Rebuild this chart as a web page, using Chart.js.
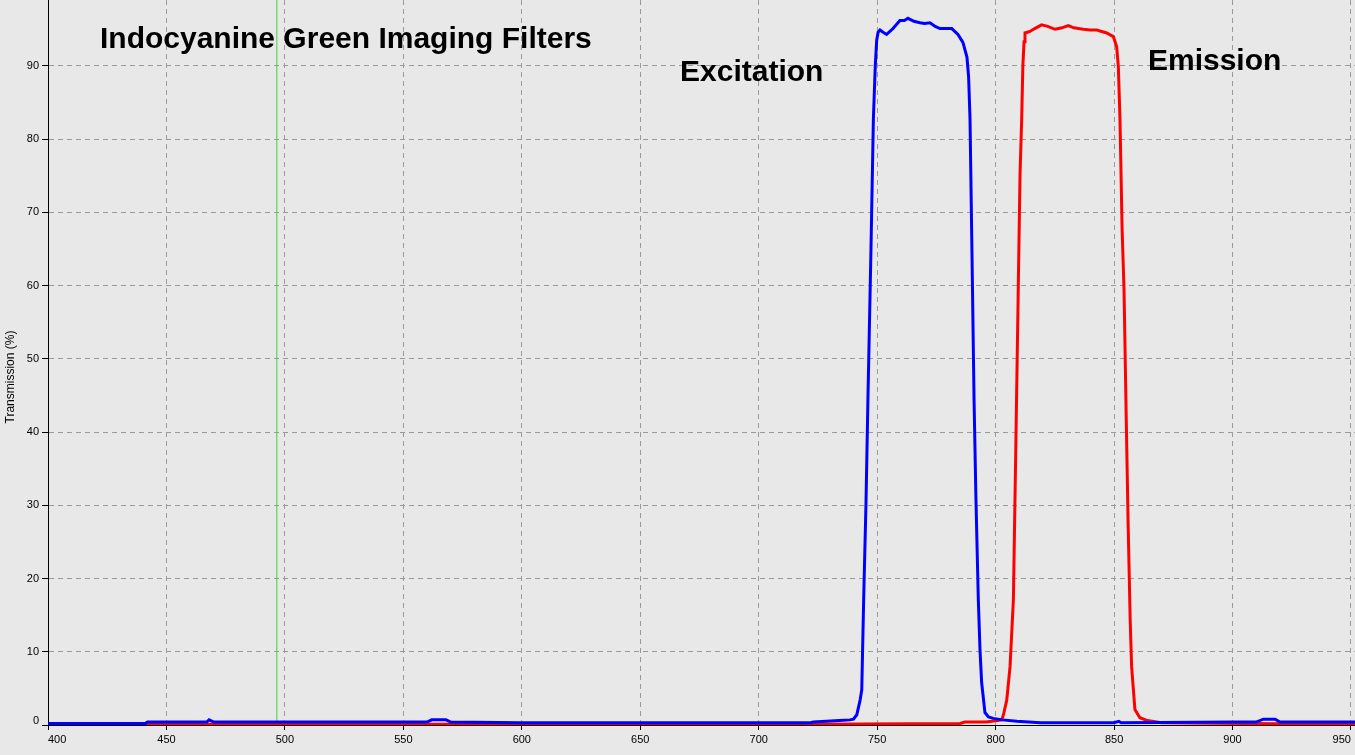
<!DOCTYPE html>
<html>
<head>
<meta charset="utf-8">
<script src="https://cdn.jsdelivr.net/npm/chart.js@4.4.1/dist/chart.umd.min.js"></script>
<style>
  html, body { margin: 0; padding: 0; background: #e8e8e8; overflow: hidden; }
  canvas { display: block; }
</style>
</head>
<body>
<canvas id="myChart" width="1355" height="772"></canvas>
<script>
// values
var excitationNm = [400, 420, 441, 442, 467, 468, 470, 500, 540, 560, 562, 568, 570, 600, 650, 700, 722, 723, 734, 738.5, 740,
  741.4, 742.8, 743.5, 744.3, 745.3, 746.1, 747.4, 748.4, 749.2, 749.8, 750.4, 751.2, 752.5, 754, 756.7, 759.6, 761.5, 763,
  765.5, 768.1, 770, 772.3, 774.5, 776.5, 781.5, 784.1, 786.2, 787.9, 788.6, 789.2, 790, 790.9, 791.7, 792.7, 793.4, 794.1,
  795.5, 797, 799, 803, 809, 819, 850, 852, 853, 900, 910, 913, 918, 920, 951.7];
var excitationPct = [0.2, 0.2, 0.2, 0.4, 0.4, 0.7, 0.4, 0.4, 0.4, 0.4, 0.7, 0.7, 0.4, 0.3, 0.3, 0.3, 0.3, 0.4, 0.6, 0.7, 0.8,
  1.4, 3.4, 4.8, 17.1, 30.5, 44.4, 65.2, 82.7, 90.0, 93.5, 94.6, 94.9, 94.6, 94.3, 95.1, 96.2, 96.2, 96.5,
  96.1, 95.9, 95.8, 95.9, 95.4, 95.1, 95.1, 94.3, 93.2, 91.2, 88.5, 82.7, 64.9, 44.4, 30.8, 17.1, 10.3, 5.8,
  1.7, 1.1, 0.9, 0.7, 0.5, 0.3, 0.3, 0.5, 0.3, 0.4, 0.4, 0.8, 0.8, 0.4, 0.4];

var emissionNm = [400, 441, 500, 580, 700, 722, 785, 787, 796, 802.6, 803.3, 804.7, 806.1, 807.5, 808.5, 809.5, 810.3, 811,
  811.5, 812, 812.4, 814.5, 816.5, 819.4, 822, 825.1, 828, 830.7, 833, 837, 840, 842.7, 846.9, 849.7, 851.1, 851.8, 852.5,
  853.4, 854.2, 855, 855.9, 856.8, 857.4, 858.8, 860.9, 864, 870, 907, 944, 951.7];
var emissionPct = [0.1, 0.1, 0.1, 0.1, 0.1, 0.1, 0.2, 0.4, 0.4, 0.7, 1.4, 3.4, 8.0, 17.1, 37.4, 58.3, 75.1, 82.7,
  90.0, 93.3, 94.5, 94.7, 95.1, 95.6, 95.4, 95.0, 95.2, 95.5, 95.2, 95.0, 94.9, 94.9, 94.5, 94.0, 92.6, 89.9, 82.7,
  67.6, 59.5, 44.4, 28.0, 14.4, 8.0, 2.1, 1.0, 0.6, 0.3, 0.2, 0.1, 0.1];

var markerNm = 496.6;

var xTickValues = [400, 450, 500, 550, 600, 650, 700, 750, 800, 850, 900, 950];
var yTickValues = [0, 10, 20, 30, 40, 50, 60, 70, 80, 90];
var xMin = 400, xMax = 951.7;
var yMin = 0, yMax = 99.0;

function toPoints(xs, ys) {
  return xs.map(function (x, i) { return { x: x, y: ys[i] }; });
}

Chart.defaults.font.family = '"Liberation Sans", Arial, sans-serif';
Chart.defaults.color = '#000';

var background = {
  id: 'background',
  beforeDraw: function (chart) {
    var c = chart.ctx;
    c.save();
    c.fillStyle = '#e8e8e8';
    c.fillRect(0, 0, chart.width, chart.height);
    c.restore();
  }
};

var captions = {
  id: 'captions',
  afterDraw: function (chart) {
    var c = chart.ctx, xs = chart.scales.x, ys = chart.scales.y;
    c.save();
    c.fillStyle = '#000';
    c.textAlign = 'left';
    c.textBaseline = 'alphabetic';
    c.font = 'bold 30px "Liberation Sans", Arial, sans-serif';
    c.fillText('Indocyanine Green Imaging Filters', xs.getPixelForValue(421.95), ys.getPixelForValue(92.5));
    c.fillText('Excitation', xs.getPixelForValue(666.8), ys.getPixelForValue(87.95));
    c.fillText('Emission', xs.getPixelForValue(864.3), ys.getPixelForValue(89.45));
    // y axis title
    c.font = '12px "Liberation Sans", Arial, sans-serif';
    c.textAlign = 'center';
    c.textBaseline = 'middle';
    c.translate(11, 377);
    c.rotate(-Math.PI / 2);
    c.fillText('Transmission (%)', 0, 0);
    c.restore();
  }
};

var ctx = document.getElementById('myChart');
var config = {
  type: 'line',
  data: {
    datasets: [{
      label: 'Excitation',
      data: toPoints(excitationNm, excitationPct),
      borderColor: '#0000ff',
      borderWidth: 3,
      order: 0
    }, {
      label: 'Emission',
      data: toPoints(emissionNm, emissionPct),
      borderColor: '#ff0000',
      borderWidth: 3,
      order: 1
    }, {
      label: 'marker',
      data: [{ x: markerNm, y: yMin }, { x: markerNm, y: yMax }],
      borderColor: '#3ed23e',
      borderWidth: 1,
      order: 2
    }]
  },
  options: {
    responsive: false,
    animation: false,
    devicePixelRatio: 1,
    layout: { padding: 0 },
    elements: {
      point: { radius: 0, hoverRadius: 0 },
      line: { tension: 0, fill: false }
    },
    plugins: {
      legend: { display: false },
      tooltip: { enabled: false }
    },
    scales: {
      x: {
        type: 'linear',
        min: xMin,
        max: xMax,
        afterBuildTicks: function (scale) {
          scale.ticks = xTickValues.map(function (v) { return { value: v }; });
        },
        afterFit: function (scale) {
          scale.height = 47;
          scale.paddingLeft = 0;
          scale.paddingRight = 0;
        },
        ticks: {
          align: 'inner',
          maxRotation: 0,
          autoSkip: false,
          padding: 3,
          font: { size: 11 },
          color: '#000'
        },
        grid: {
          color: '#9a9a9a',
          tickColor: '#000',
          tickLength: 5,
          lineWidth: 1
        },
        border: { color: '#000', width: 1, dash: [5, 4] },
        title: {
          display: true,
          text: 'Wavelength (nm)',
          font: { size: 12 },
          color: '#000',
          padding: { top: 4, bottom: 4 }
        }
      },
      y: {
        type: 'linear',
        min: yMin,
        max: yMax,
        afterBuildTicks: function (scale) {
          scale.ticks = yTickValues.map(function (v) { return { value: v }; });
        },
        afterFit: function (scale) {
          scale.width = 48;
          scale.paddingTop = 0;
          scale.paddingBottom = 0;
        },
        ticks: {
          padding: 3,
          font: { size: 11, lineHeight: 0.8 },
          color: '#000',
          // the bottom label sits just above the axis line, as in the picture
          callback: function (value) { return value === 0 ? ['0', ''] : String(value); }
        },
        grid: {
          color: '#9a9a9a',
          tickColor: '#000',
          tickLength: 6,
          lineWidth: 1
        },
        border: { color: '#000', width: 1, dash: [5, 4] }
      }
    }
  },
  plugins: [background, captions]
};
var myChart = new Chart(ctx, config);
</script>
</body>
</html>
